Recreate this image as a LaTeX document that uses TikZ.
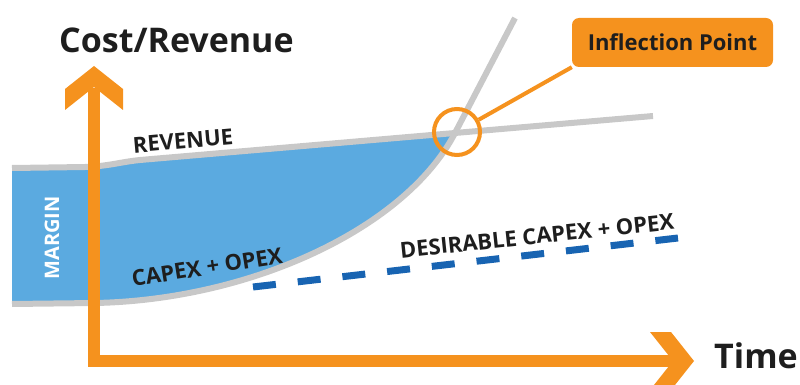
\documentclass[tikz,border=0pt]{standalone}
\usepackage{fontspec}
\setmainfont{Open Sans}
\definecolor{axisorange}{RGB}{245,146,30}
\definecolor{marginblue}{RGB}{91,170,224}
\definecolor{dashblue}{RGB}{24,100,178}
\definecolor{curvegrey}{RGB}{200,200,200}
\definecolor{textdark}{RGB}{30,30,30}
\tikzset{
  greyline/.style={draw=curvegrey, line width=6pt},
  dashline/.style={draw=dashblue, line width=7pt, dash pattern=on 23pt off 22pt},
  axisline/.style={draw=axisorange, line width=12pt, line join=miter},
  axishead/.style={fill=axisorange},
  curvelabel/.style={text=textdark, font=\bfseries\fontsize{22}{24}\selectfont, inner sep=0pt},
  axislabel/.style={text=textdark, font=\bfseries\fontsize{34}{38}\selectfont, inner sep=0pt},
}
\begin{document}
\begin{tikzpicture}[x=1pt,y=-1pt]
\useasboundingbox (0,0) rectangle (800,385);
% margin fill
\fill[marginblue] (12,168) -- (85,167) .. controls (110,166) and (120,162) .. (140,160) -- (455,133)
  .. controls (405,229) and (250,300) .. (95,303) -- (12,304) -- cycle;
% revenue curve
\draw[greyline] (12,168) -- (85,167) .. controls (110,166) and (120,162) .. (140,160) -- (653,116);
% cost curve
\draw[greyline] (12,304) -- (95,303) .. controls (250,300) and (405,229) .. (455,133) -- (515,18);
% desirable dashed
\coordinate (d1) at (253,287);
\coordinate (d2) at (678,238);
\draw[dashline] (d1) -- (d2);
% axes
\coordinate (O) at (94,361);
\coordinate (ybase) at (94,88);
\coordinate (xbase) at (674,361);
\draw[axisline] (ybase) -- (O) -- (xbase);
\fill[axishead] (94,66) -- (123,89) -- (123,110) -- (94,87) -- (65,110) -- (65,89) -- cycle;
\fill[axishead] (694,361) -- (671,332) -- (650,332) -- (673,361) -- (650,390) -- (671,390) -- cycle;
% axis labels
\node[axislabel, anchor=base west] (ylab) at (59,53) {Cost/Revenue};
\node[axislabel, anchor=base west] (xlab) at (714,368) {Time};
% curve labels
\node[curvelabel, rotate=5] (rev) at (183,141) {REVENUE};
\node[curvelabel, rotate=9] (capex) at (207,267) {CAPEX + OPEX};
\node[curvelabel, rotate=6] (des) at (537,236) {DESIRABLE CAPEX + OPEX};
\node[curvelabel, text=white, rotate=90, font=\bfseries\fontsize{20}{22}\selectfont] (margin) at (52,238) {MARGIN};
% inflection point
\node[circle, draw=axisorange, line width=4pt, minimum size=46pt, inner sep=0pt] (ip) at (457,132) {};
\node[fill=axisorange, rounded corners=7pt, minimum width=201pt, minimum height=49pt, inner sep=0pt,
      text=textdark, font=\bfseries\fontsize{22}{24}\selectfont] (ipbox) at (672.5,42.5) {Inflection Point};
\draw[draw=axisorange, line width=4pt] (ip) -- (ipbox.south west);
\end{tikzpicture}
\end{document}
